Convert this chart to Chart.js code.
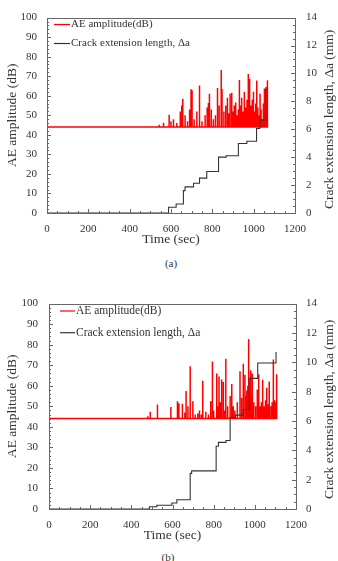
<!DOCTYPE html>
<html>
<head>
<meta charset="utf-8">
<script src="https://cdn.jsdelivr.net/npm/chart.js@4.4.0/dist/chart.umd.min.js"></script>
<style>
  body { margin: 0; background: #fff; width: 338px; height: 561px; position: relative; overflow: hidden; font-family: "Liberation Serif", serif; }
  .box { position: absolute; left: 0; width: 338px; }
  #boxA { top: 0; height: 250px; }
  #boxB { top: 286px; height: 260px; }
  .cap { position: absolute; font-size: 11px; color: #333; transform: translate(-50%, -50%); }
</style>
</head>
<body>
<div class="box" id="boxA"><canvas id="chartA"></canvas></div>
<div class="box" id="boxB"><canvas id="chartB"></canvas></div>
<div class="cap" style="left:171px;top:263px">(a)</div>
<div class="cap" style="left:168px;top:557px">(b)</div>
<script>
// AE amplitude baseline (dB)
const baseAmp = 44;

// (a) AE hits: time (sec) and peak amplitude (dB)
const spikeTimeA = [543, 564, 591, 600, 612, 628, 645, 652, 657, 668, 680, 690, 697, 702, 712, 725, 738, 750, 765, 775,
  781, 786, 795, 805, 815, 825, 833, 843, 847, 856, 865, 873, 880, 886, 894, 900, 906, 913, 920, 926,
  931, 937, 942, 948, 955, 962, 968, 974, 978, 982, 987, 993, 999, 1004, 1010, 1015, 1020, 1025, 1031, 1036,
  1042, 1047, 1052, 1056, 1060, 1066];
const spikePeakA = [45.2, 46.2, 50.3, 47, 48, 46, 52, 55, 58.5, 50, 47, 53, 63.3, 62.8, 48, 52, 65.3, 47, 50, 54,
  56.3, 61, 53, 48, 50, 64, 55, 73.2, 63.5, 52, 55, 59, 51, 61, 61.5, 52, 55, 56.5, 50, 53,
  68.1, 55, 59, 52, 62, 54, 58, 71.1, 60, 68.7, 55, 58, 62, 52, 56, 67.8, 54, 50, 61, 53,
  48, 56, 63.7, 58, 64.5, 68];
const endTimeA = 1068;

// (a) crack extension length: time (sec) where the step starts, length (mm)
const crackTimeA = [0, 588, 625, 660, 668, 709, 738, 773, 830, 867, 926, 967, 1014, 1030, 1058];
const crackLenA = [0, 0.41, 0.64, 1.6, 1.87, 2.13, 2.5, 2.97, 4.0, 4.1, 4.98, 5.14, 6.05, 6.66, 8.9];

// (b) AE hits
const spikeTimeB = [480, 492, 527, 592, 624, 631, 648, 660, 666, 675, 686, 699, 710, 723, 731, 740, 747, 762, 775, 786,
  794, 800, 815, 820, 826, 833, 839, 847, 853, 859, 868, 880, 888, 895, 903, 915, 928, 936, 944, 952,
  957, 961, 966, 970, 975, 980, 984, 988, 995, 1004, 1012, 1019, 1025, 1032, 1038, 1045, 1052, 1058, 1064, 1070,
  1078, 1084, 1090, 1096, 1100, 1106];
const spikePeakB = [45.2, 47.3, 50.9, 49.6, 52.4, 51.5, 51.2, 47, 57.4, 50, 69.5, 52.4, 46, 46.5, 48, 46, 62.4, 47.3, 46, 52.4,
  71.8, 48, 66, 50, 64.5, 52, 63, 61.8, 48, 73.1, 50, 55, 60.9, 50, 48, 52, 67.1, 54, 70.7, 65.3,
  55, 57.7, 60, 82.8, 52, 67.6, 55, 66, 52, 50, 58.2, 65.6, 50, 52, 62.9, 50, 53, 59, 51, 62.1,
  50, 52, 72.8, 53, 52, 65.6];
const endTimeB = 1109;

// (b) crack extension length
const crackTimeB = [0, 488, 524, 597, 621, 686, 693, 812, 823, 860, 880, 905, 944, 973, 1014, 1103];
const crackLenB = [0, 0.15, 0.26, 0.41, 0.63, 2.43, 2.6, 4.28, 4.54, 4.67, 6.24, 6.4, 6.78, 8.9, 9.95, 10.7];

const fontFam = "'Liberation Serif', 'Times New Roman', serif";
const txt = '#333';
const rightTitle = 'Crack extension length, \u0394a (mm)';

function spikeSeries(times, peaks, end) {
  const pts = [{ x: 0, y: baseAmp }];
  times.forEach((t, i) => {
    pts.push({ x: t, y: baseAmp }, { x: t, y: peaks[i] }, { x: t, y: baseAmp });
  });
  pts.push({ x: end, y: baseAmp });
  return pts;
}

function stepSeries(times, lens) {
  return times.map((t, i) => ({ x: t, y: lens[i] }));
}

// box around plot area and inward tick marks
const frameTicks = {
  id: 'frameTicks',
  afterDatasetsDraw(chart) {
    const { ctx, chartArea: a, scales } = chart;
    ctx.save();
    ctx.strokeStyle = '#666';
    ctx.lineWidth = 1;
    ctx.strokeRect(Math.round(a.left) + 0.5, Math.round(a.top) + 0.5, Math.round(a.width), Math.round(a.height));
    const mark = (scale, step, len) => {
      for (let v = scale.min; v <= scale.max + 1e-9; v += step) {
        const p = Math.round(scale.getPixelForValue(v)) + 0.5;
        ctx.beginPath();
        if (scale.axis === 'x') {
          ctx.moveTo(p, a.bottom); ctx.lineTo(p, a.bottom - len);
        } else if (scale.position === 'left') {
          ctx.moveTo(a.left, p); ctx.lineTo(a.left + len, p);
        } else {
          ctx.moveTo(a.right, p); ctx.lineTo(a.right - len, p);
        }
        ctx.stroke();
      }
    };
    mark(scales.x, 50, 2); mark(scales.x, 200, 4);
    mark(scales.y, 2, 2); mark(scales.y, 10, 4);
    mark(scales.y2, 0.5, 2); mark(scales.y2, 2, 4);
    ctx.restore();
  }
};

// legend inside the plot, one row per dataset, plus the right axis title read bottom-to-top
const insideLegend = {
  id: 'insideLegend',
  afterDraw(chart, args, o) {
    const { ctx, chartArea: a } = chart;
    ctx.save();
    chart.data.datasets.forEach((ds, i) => {
      const y = o.y + i * o.gap;
      ctx.strokeStyle = ds.borderColor;
      ctx.lineWidth = 1.2;
      ctx.beginPath();
      ctx.moveTo(o.x, y); ctx.lineTo(o.x + o.len, y);
      ctx.stroke();
      ctx.fillStyle = txt;
      ctx.font = o.size + 'px ' + fontFam;
      ctx.textBaseline = 'middle';
      ctx.fillText(ds.label, o.x + o.len + 1, y);
    });
    ctx.translate(o.titleX, (a.top + a.bottom) / 2 + o.titleDy);
    ctx.rotate(-Math.PI / 2);
    ctx.font = '13.5px ' + fontFam;
    ctx.textAlign = 'center';
    ctx.textBaseline = 'middle';
    ctx.fillText(rightTitle, 0, 0);
    ctx.restore();
  }
};

function makeChart(id, spikes, crack, lay) {
  return new Chart(document.getElementById(id), {
    type: 'line',
    data: {
      datasets: [
        {
          label: 'AE amplitude(dB)',
          data: spikes,
          yAxisID: 'y',
          borderColor: '#ff0000',
          borderWidth: 1.5,
          pointRadius: 0,
          tension: 0,
          order: 1
        },
        {
          label: 'Crack extension length, \u0394a',
          data: crack,
          yAxisID: 'y2',
          borderColor: '#333333',
          borderWidth: 1.1,
          pointRadius: 0,
          stepped: 'before',
          order: 0
        }
      ]
    },
    options: {
      responsive: true,
      maintainAspectRatio: false,
      animation: false,
      layout: { padding: { top: lay.top, left: 0, right: 0, bottom: 0 } },
      plugins: {
        legend: { display: false },
        tooltip: { enabled: false },
        insideLegend: lay.legend
      },
      scales: {
        x: {
          type: 'linear', min: 0, max: 1200,
          ticks: { stepSize: 200, maxRotation: 0, padding: 10, color: txt, font: { family: fontFam, size: 11 },
            callback: v => String(v) },
          grid: { display: false, drawTicks: false }, border: { display: false },
          title: { display: true, text: 'Time (sec)', color: txt, font: { family: fontFam, size: 13.5 }, padding: { top: 0, bottom: 2 } },
          afterFit: s => { s.height = 37; }
        },
        y: {
          position: 'left', min: 0, max: 100,
          ticks: { stepSize: 10, padding: lay.lpad, color: txt, font: { family: fontFam, size: 11 } },
          grid: { display: false, drawTicks: false }, border: { display: false },
          title: { display: true, text: 'AE amplitude (dB)', color: txt, font: { family: fontFam, size: 13.5 }, padding: { top: 4, bottom: 0 } },
          afterFit: s => { s.width = lay.left; }
        },
        y2: {
          position: 'right', min: 0, max: 14,
          ticks: { stepSize: 2, padding: lay.rpad, color: txt, font: { family: fontFam, size: 11 } },
          grid: { display: false, drawTicks: false }, border: { display: false },
          afterFit: s => { s.width = lay.right; }
        }
      }
    },
    plugins: [frameTicks, insideLegend]
  });
}

makeChart('chartA',
  spikeSeries(spikeTimeA, spikePeakA, endTimeA),
  stepSeries(crackTimeA, crackLenA),
  { top: 9, left: 47, right: 43, lpad: 10, rpad: 11,
    legend: { x: 54, y: 24.5, gap: 19, len: 16, size: 11, titleX: 329.5, titleDy: 4 } });

makeChart('chartB',
  spikeSeries(spikeTimeB, spikePeakB, endTimeB),
  stepSeries(crackTimeB, crackLenB),
  { top: 10, left: 49, right: 42, lpad: 11, rpad: 10,
    legend: { x: 60, y: 25, gap: 21.7, len: 15, size: 11.5, titleX: 329.5, titleDy: 3 } });
</script>
</body>
</html>
